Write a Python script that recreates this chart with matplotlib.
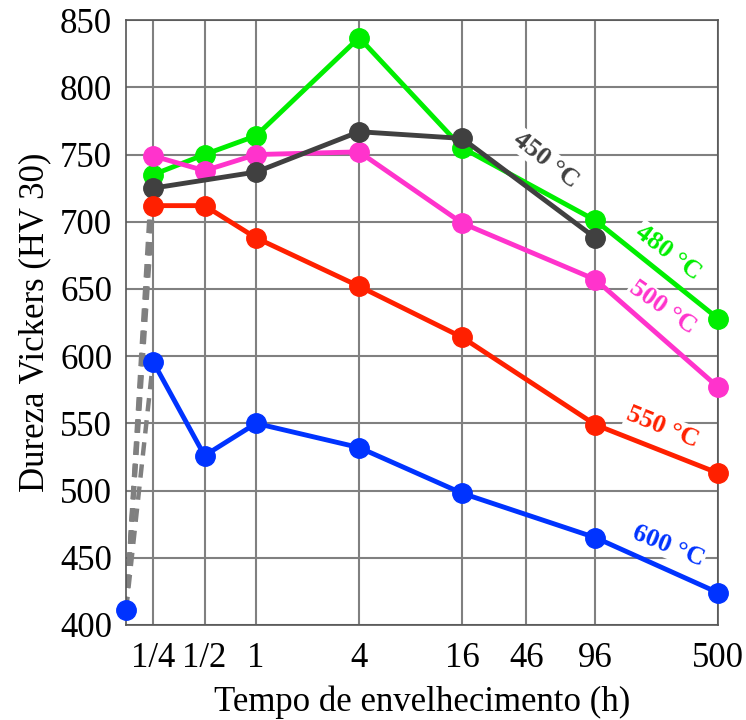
import numpy as np
import matplotlib.pyplot as plt

# tempo de envelhecimento (h) e dureza (HV 30)
t0 = 0.174          # estado inicial (solubilizado), na borda esquerda
hv0 = 411

t_450 = [0.25, 1, 4, 16, 96]
hv_450 = [725, 737, 767, 762, 688]

t_all = [0.25, 0.5, 1, 4, 16, 96, 500]
hv_480 = [735, 750, 764, 837, 755, 701, 628]
hv_500 = [749, 738, 750, 752, 699, 657, 577]
hv_550 = [712, 712, 688, 652, 614, 549, 513]
hv_600 = [596, 526, 550, 532, 498, 465, 424]

tick_pos = [0.25, 0.5, 1, 4, 16, 38, 96, 500]
tick_labels = ['1/4', '1/2', '1', '4', '16', '46', '96', '500']

plt.rcParams['font.family'] = ['Liberation Serif', 'DejaVu Serif']

fig = plt.figure(figsize=(7.46, 7.2), dpi=100)
ax = fig.add_axes([0.169, 0.132, 0.7935, 0.840])

# linhas tracejadas do estado inicial até o primeiro ponto de cada série
for hv in [hv_450[0], hv_480[0], hv_500[0], hv_550[0], hv_600[0]]:
    ax.plot([t0, 0.25], [hv0, hv], color='#808080', lw=3.2, ls=(0, (3, 2)), zorder=2)

series = [
    ('480 °C', t_all, hv_480, '#00ee00'),
    ('500 °C', t_all, hv_500, '#ff33cc'),
    ('450 °C', t_450, hv_450, '#404040'),
    ('550 °C', t_all, hv_550, '#ff2000'),
    ('600 °C', t_all, hv_600, '#0033ff'),
]
for name, t, hv, c in series:
    ax.plot(t, hv, color=c, lw=3.5, marker='o', ms=14, zorder=3, clip_on=False)
ax.plot([t0], [hv0], color='#0033ff', marker='o', ms=14, zorder=3, clip_on=False)

labels = [
    ('450 °C', 49, 746, -38, '#404040'),
    ('480 °C', 256, 677, -37, '#00ee00'),
    ('500 °C', 236, 636, -35, '#ff33cc'),
    ('550 °C', 238, 547, -22, '#ff2000'),
    ('600 °C', 256, 459, -22, '#0033ff'),
]
for txt, x, y, rot, c in labels:
    ax.text(x, y, txt, color=c, rotation=rot, fontsize=19, fontweight='bold',
            ha='center', va='center', zorder=2.5,
            bbox=dict(facecolor='white', edgecolor='none', pad=1))

ax.set_xscale('log', base=2)
ax.set_xlim(t0, 500)
ax.set_ylim(400, 850)
ax.set_xticks(tick_pos)
ax.set_xticklabels(tick_labels)
ax.minorticks_off()
ax.set_yticks(np.arange(400, 851, 50))
ax.tick_params(axis='both', length=0, labelsize=25)
ax.tick_params(axis='x', pad=12)
ax.tick_params(axis='y', pad=10)
ax.grid(True, color='#808080', lw=1.5)
ax.set_axisbelow(True)
for s in ax.spines.values():
    s.set_color('#555555')
    s.set_linewidth(1.2)

ax.set_xlabel('Tempo de envelhecimento (h)', fontsize=25, labelpad=8)
ax.set_ylabel('Dureza Vickers (HV 30)', fontsize=25, labelpad=6)

fig.savefig('out.png', dpi=100)
